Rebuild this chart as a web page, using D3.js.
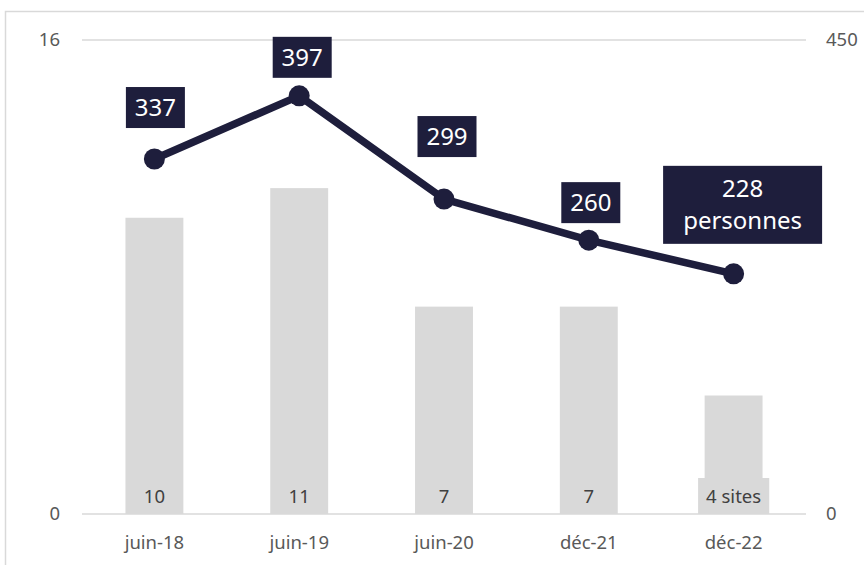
<!DOCTYPE html>
<html>
<head>
<meta charset="utf-8">
<title>Sites et personnes</title>
<script src="https://cdn.jsdelivr.net/npm/d3@7/dist/d3.min.js"></script>
<style>
  body { margin: 0; background: #fff; }
  svg text { font-family: "Noto Sans", "Open Sans", sans-serif; }
</style>
</head>
<body>
<div id="chart"></div>
<script>
  // data
  var categories = ["juin-18", "juin-19", "juin-20", "déc-21", "déc-22"];
  var sites = [10, 11, 7, 7, 4];
  var siteLabels = ["10", "11", "7", "7", "4 sites"];
  var personnes = [337, 397, 299, 260, 228];
  var personneLabels = [["337"], ["397"], ["299"], ["260"], ["228", "personnes"]];
  var leftTicks = [0, 16];
  var rightTicks = [0, 450];

  // layout of the line labels (gap above the point, shift to the right)
  var labelGap = [31, 18, 42, 17, 30];
  var labelShift = [1, 3, 3, 2, 9];

  var W = 864, H = 565;
  var plotLeft = 82, plotRight = 806, plotTop = 40, plotBottom = 514;
  var navy = "#1e1e3c", grey = "#d9d9d9", textGrey = "#595959";

  var svg = d3.select("#chart").append("svg")
      .attr("width", W).attr("height", H);

  svg.append("rect")
      .attr("x", 5.5).attr("y", 11.5)
      .attr("width", 900).attr("height", 600)
      .attr("fill", "none").attr("stroke", "#d9d9d9").attr("stroke-width", 1.5);

  var x = d3.scaleBand().domain(categories).range([plotLeft, plotRight]).paddingInner(0.6).paddingOuter(0.3);
  var yL = d3.scaleLinear().domain([0, 16]).range([plotBottom, plotTop]);
  var yR = d3.scaleLinear().domain([0, 450]).range([plotBottom, plotTop]);

  // gridlines
  svg.selectAll("line.grid").data(leftTicks).enter().append("line")
      .attr("class", "grid")
      .attr("x1", plotLeft).attr("x2", plotRight)
      .attr("y1", function(d) { return yL(d); }).attr("y2", function(d) { return yL(d); })
      .attr("stroke", "#d9d9d9").attr("stroke-width", 1.5);

  // axes
  var axisL = svg.append("g").attr("transform", "translate(" + plotLeft + ",0)")
      .call(d3.axisLeft(yL).tickValues(leftTicks).tickSize(0).tickPadding(22));
  var axisR = svg.append("g").attr("transform", "translate(" + plotRight + ",0)")
      .call(d3.axisRight(yR).tickValues(rightTicks).tickSize(0).tickPadding(20));
  var axisB = svg.append("g").attr("transform", "translate(0," + plotBottom + ")")
      .call(d3.axisBottom(x).tickSize(0).tickPadding(22));
  [axisL, axisR, axisB].forEach(function(a) {
    a.select(".domain").remove();
    a.selectAll("text").attr("font-size", 18.5).attr("fill", textGrey)
      .attr("font-family", "'Noto Sans', sans-serif");
  });

  // bars
  svg.selectAll("rect.bar").data(sites).enter().append("rect")
      .attr("class", "bar")
      .attr("x", function(d, i) { return x(categories[i]); })
      .attr("width", x.bandwidth())
      .attr("y", function(d) { return yL(d); })
      .attr("height", function(d) { return yL(0) - yL(d); })
      .attr("fill", grey);

  // bar labels with grey background
  var bl = svg.selectAll("g.blabel").data(sites).enter().append("g")
      .attr("class", "blabel")
      .attr("transform", function(d, i) {
        return "translate(" + (x(categories[i]) + x.bandwidth() / 2) + "," + (plotBottom - 17) + ")";
      });
  bl.append("text")
      .attr("text-anchor", "middle").attr("dy", "0.35em")
      .attr("font-size", 18.5).attr("fill", "#404040")
      .text(function(d, i) { return siteLabels[i]; });
  bl.each(function() {
    var g = d3.select(this);
    var bb = g.select("text").node().getBBox();
    g.insert("rect", "text")
      .attr("x", bb.x - 8).attr("y", -19)
      .attr("width", bb.width + 16).attr("height", 36)
      .attr("fill", grey);
  });

  // line
  var cx = function(i) { return x(categories[i]) + x.bandwidth() / 2; };
  var line = d3.line().x(function(d, i) { return cx(i); }).y(function(d) { return yR(d); });
  svg.append("path").datum(personnes)
      .attr("d", line).attr("fill", "none")
      .attr("stroke", navy).attr("stroke-width", 7.5).attr("stroke-linejoin", "round");
  svg.selectAll("circle.pt").data(personnes).enter().append("circle")
      .attr("class", "pt")
      .attr("cx", function(d, i) { return cx(i); })
      .attr("cy", function(d) { return yR(d); })
      .attr("r", 10.5).attr("fill", navy);

  // line labels
  var ll = svg.selectAll("g.llabel").data(personnes).enter().append("g")
      .attr("class", "llabel")
      .attr("transform", function(d, i) {
        return "translate(" + (cx(i) + labelShift[i]) + "," + (yR(d) - labelGap[i]) + ")";
      });
  ll.each(function(d, i) {
    var g = d3.select(this);
    var lines = personneLabels[i];
    var lh = 32;
    var h = lines.length === 1 ? 41 : 78;
    var w = lines.length === 1 ? 59 : 159;
    g.append("rect")
      .attr("x", -w / 2).attr("y", -h)
      .attr("width", w).attr("height", h)
      .attr("fill", navy);
    var y0 = -h / 2 - (lines.length - 1) * lh / 2;
    lines.forEach(function(t, k) {
      g.append("text")
        .attr("x", 0).attr("y", y0 + k * lh).attr("dy", "0.35em")
        .attr("text-anchor", "middle")
        .attr("font-size", 24).attr("fill", "#fff")
        .text(t);
    });
  });
</script>
</body>
</html>
